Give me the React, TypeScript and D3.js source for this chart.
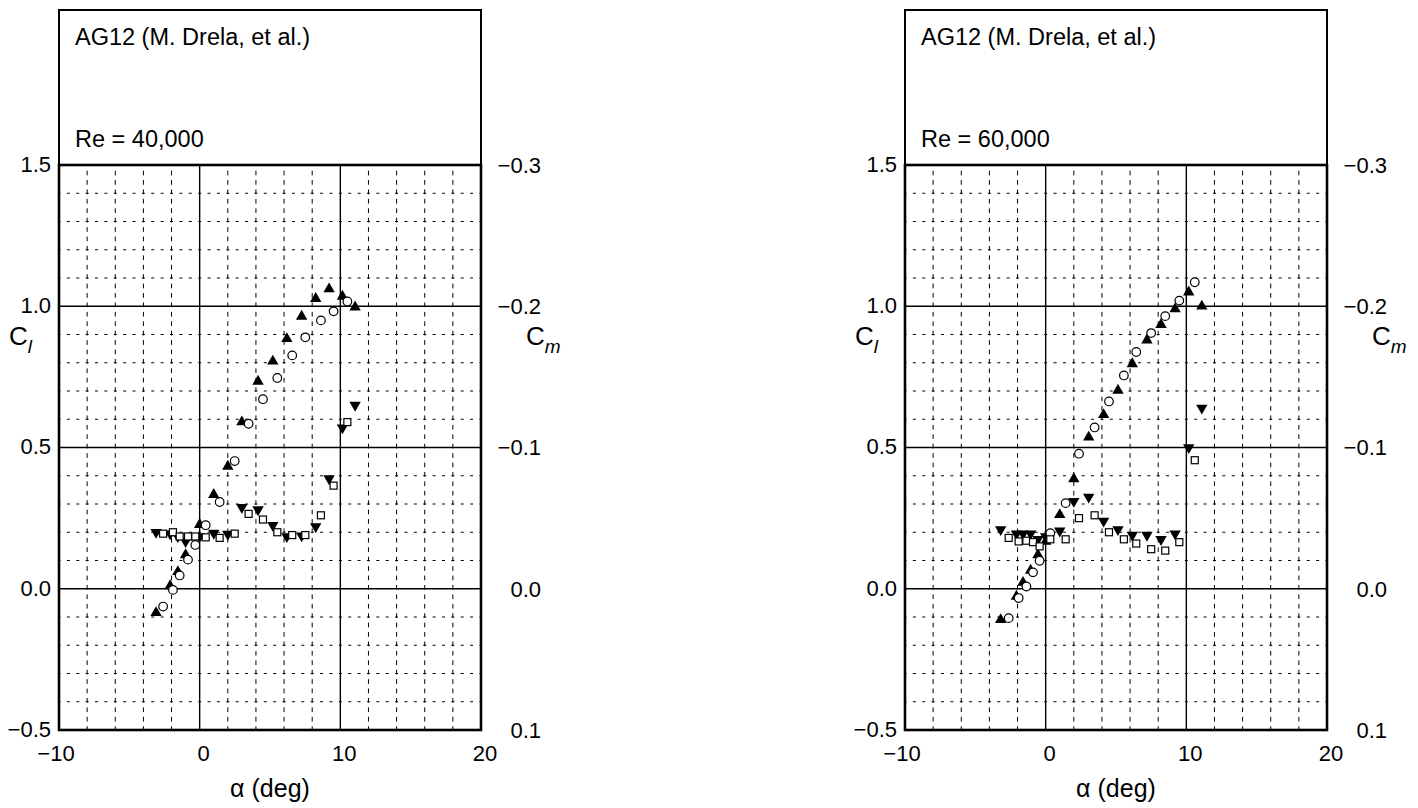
import React from 'react';
import * as d3 from 'd3';

// tick labels
const alphaTicks = [-10, 0, 10, 20];
const clTicks = [-0.5, 0.0, 0.5, 1.0, 1.5];
const cmTicks = [0.1, 0.0, -0.1, -0.2, -0.3];

// Re = 40,000 -- filled triangles (Cl up, Cm down)
const alphaA40 = [-3.1, -2.1, -1.55, -1.0, 0.0, 1.0, 2.0, 3.0, 4.15, 5.2, 6.2, 7.25, 8.25, 9.2, 10.15, 11.05];
const clA40 = [-0.085, 0.01, 0.06, 0.12, 0.227, 0.333, 0.433, 0.59, 0.734, 0.805, 0.885, 0.964, 1.027, 1.061, 1.035, 0.997];
const cmA40 = [-0.040, -0.039, -0.037, -0.0335, -0.037, -0.0394, -0.0387, -0.0576, -0.056, -0.045, -0.037, -0.0375, -0.044, -0.078, -0.114, -0.130];
// Re = 40,000 -- open symbols (Cl circle, Cm square)
const alphaB40 = [-2.6, -1.9, -1.42, -0.83, -0.31, 0.43, 1.42, 2.49, 3.48, 4.5, 5.52, 6.58, 7.51, 8.62, 9.52, 10.5];
const clB40 = [-0.063, -0.004, 0.047, 0.103, 0.155, 0.225, 0.307, 0.452, 0.584, 0.671, 0.746, 0.826, 0.89, 0.95, 0.982, 1.017];
const cmB40 = [-0.039, -0.040, -0.037, -0.037, -0.037, -0.0364, -0.036, -0.039, -0.053, -0.049, -0.040, -0.038, -0.038, -0.052, -0.073, -0.118];

// Re = 60,000
const alphaA60 = [-3.2, -2.08, -1.61, -1.07, -0.55, 0.0, 1.0, 2.0, 3.06, 4.12, 5.14, 6.16, 7.2, 8.2, 9.2, 10.17, 11.1];
const clA60 = [-0.11, -0.027, 0.022, 0.065, 0.12, 0.167, 0.262, 0.389, 0.536, 0.616, 0.702, 0.796, 0.88, 0.935, 0.99, 1.05, 1.0];
const cmA60 = [-0.042, -0.039, -0.039, -0.039, -0.035, -0.037, -0.041, -0.062, -0.065, -0.048, -0.042, -0.038, -0.038, -0.035, -0.039, -0.100, -0.128];
const alphaB60 = [-2.63, -1.92, -1.37, -0.9, -0.43, 0.33, 1.42, 2.37, 3.48, 4.5, 5.56, 6.44, 7.5, 8.5, 9.5, 10.6];
const clB60 = [-0.104, -0.033, 0.008, 0.058, 0.099, 0.197, 0.303, 0.478, 0.571, 0.663, 0.755, 0.838, 0.905, 0.965, 1.02, 1.085];
const cmB60 = [-0.036, -0.0335, -0.034, -0.033, -0.030, -0.035, -0.035, -0.050, -0.052, -0.040, -0.035, -0.032, -0.028, -0.027, -0.033, -0.091];

const font = 'Liberation Sans, Arial, Helvetica, sans-serif';
const tri = d3.symbol().type(d3.symbolTriangle).size(56)();

const Panel = ({ ox, re, alphaA, clA, cmA, alphaB, clB, cmB }) => {
    const x = d3.scaleLinear().domain([-10, 20]).range([ox + 59, ox + 481]);
    const y = d3.scaleLinear().domain([-0.5, 1.5]).range([730, 165]);
    const ycm = d3.scaleLinear().domain([0.1, -0.3]).range([730, 165]);

    const minorX = d3.range(-8, 20, 2).filter(v => v % 10 !== 0);
    const majorX = [0, 10];
    const minorY = d3.range(-4, 15).map(v => v / 10).filter(v => Math.round(v * 10) % 5 !== 0);
    const majorY = [0, 0.5, 1.0];
    const hPeriod = (x(2) - x(0)) / 3;
    const vPeriod = (y(0) - y(0.1)) / 3;
    const fmt = d3.format('.1f');

    return (
        <g>
            {/* title box */}
            <rect x={x(-10)} y={10} width={x(20) - x(-10)} height={165 - 10} fill="none" stroke="#000" strokeWidth={2} />
            <text x={ox + 75} y={45} fontSize={23.5} fontFamily={font}>AG12 (M. Drela, et al.)</text>
            <text x={ox + 75} y={147} fontSize={23.5} fontFamily={font}>{re}</text>

            {/* grid */}
            {minorX.map(v => (
                <line key={'mx' + v} x1={x(v)} x2={x(v)} y1={y(1.5)} y2={y(-0.5)} stroke="#000" strokeWidth={1}
                    strokeDasharray={`${vPeriod * 0.5},${vPeriod * 0.5}`} strokeDashoffset={-vPeriod * 0.6} />
            ))}
            {minorY.map(v => (
                <line key={'my' + v} x1={x(-10)} x2={x(20)} y1={y(v)} y2={y(v)} stroke="#000" strokeWidth={1}
                    strokeDasharray={`${hPeriod * 0.32},${hPeriod * 0.68}`} strokeDashoffset={hPeriod * 0.16} />
            ))}
            {majorX.map(v => (
                <line key={'Mx' + v} x1={x(v)} x2={x(v)} y1={y(1.5)} y2={y(-0.5)} stroke="#000" strokeWidth={1.4} />
            ))}
            {majorY.map(v => (
                <line key={'My' + v} x1={x(-10)} x2={x(20)} y1={y(v)} y2={y(v)} stroke="#000" strokeWidth={1.4} />
            ))}
            <rect x={x(-10)} y={y(1.5)} width={x(20) - x(-10)} height={y(-0.5) - y(1.5)} fill="none" stroke="#000" strokeWidth={2.6} />

            {/* tick labels */}
            {alphaTicks.map(t => (
                <text key={'ax' + t} x={x(t) + (t < 0 ? -3 : 4)} y={761} textAnchor="middle" fontSize={22} fontFamily={font}>{fmt(t).replace('.0', '')}</text>
            ))}
            {clTicks.map(t => (
                <text key={'cl' + t} x={ox + 51} y={y(t) - 1} dy="0.36em" textAnchor="end" fontSize={22} fontFamily={font}>{fmt(t)}</text>
            ))}
            {cmTicks.map(t => (
                <text key={'cm' + t} x={ox + 541} y={ycm(t)} dy="0.36em" textAnchor="end" fontSize={22} fontFamily={font}>{t === 0 ? '0.0' : fmt(t)}</text>
            ))}

            {/* axis titles */}
            <text x={x(5)} y={797} textAnchor="middle" fontSize={25} fontFamily={font}>α (deg)</text>
            <text x={ox + 9} y={345} fontSize={26} fontFamily={font}>C<tspan fontSize={19} fontStyle="italic" dy={8}>l</tspan></text>
            <text x={ox + 526} y={345} fontSize={26} fontFamily={font}>C<tspan fontSize={19} fontStyle="italic" dy={8}>m</tspan></text>

            {/* data */}
            {alphaA.map((a, i) => (
                <path key={'up' + i} d={tri} transform={`translate(${x(a)},${y(clA[i])})`} fill="#000" />
            ))}
            {alphaA.map((a, i) => (
                <path key={'dn' + i} d={tri} transform={`translate(${x(a)},${ycm(cmA[i])}) rotate(180)`} fill="#000" />
            ))}
            {alphaB.map((a, i) => (
                <circle key={'o' + i} cx={x(a)} cy={y(clB[i])} r={4.3} fill="#fff" stroke="#000" strokeWidth={1.2} />
            ))}
            {alphaB.map((a, i) => (
                <rect key={'s' + i} x={x(a) - 3.5} y={ycm(cmB[i]) - 3.5} width={7} height={7} fill="#fff" stroke="#000" strokeWidth={1.2} />
            ))}
        </g>
    );
};

const App = () => (
    <svg width={1418} height={808} style={{ position: 'absolute', left: 0, top: 0, display: 'block', background: '#fff' }}>
        <rect width={1418} height={808} fill="#fff" />
        <Panel ox={0} re="Re = 40,000" alphaA={alphaA40} clA={clA40} cmA={cmA40} alphaB={alphaB40} clB={clB40} cmB={cmB40} />
        <Panel ox={846} re="Re = 60,000" alphaA={alphaA60} clA={clA60} cmA={cmA60} alphaB={alphaB60} clB={clB60} cmB={cmB60} />
    </svg>
);

export default App;
